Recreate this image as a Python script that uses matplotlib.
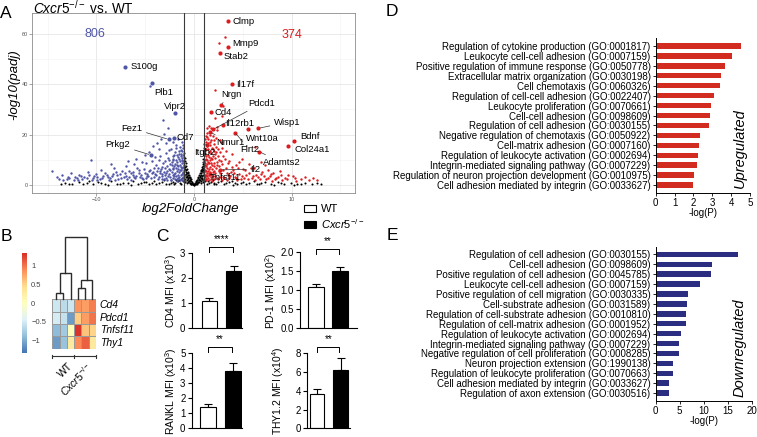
import matplotlib
matplotlib.use("Agg")
import matplotlib.pyplot as plt
import numpy as np
from matplotlib.colors import LinearSegmentedColormap
from matplotlib.patches import Patch

plt.rcParams['font.family'] = ['Liberation Sans', 'DejaVu Sans']
plt.rcParams['mathtext.fontset'] = 'custom'
plt.rcParams['mathtext.rm'] = 'Liberation Sans'
plt.rcParams['mathtext.it'] = 'Liberation Sans:italic'
plt.rcParams['mathtext.bf'] = 'Liberation Sans:bold'

# ---------------- data ----------------
# volcano (log2FoldChange, -log10(padj))
ns_pts = [(-0.95, 9.5), (-0.9, 7.2), (-0.85, 8.8), (-0.8, 5.9), (-0.78, 7.6), (-0.72, 4.8), (-0.7, 6.3),
          (-0.65, 5.2), (-0.6, 3.9), (-0.58, 4.6), (-0.52, 3.1), (-0.5, 4.0), (-0.45, 2.6), (-0.4, 3.2),
          (-0.38, 1.9), (-0.33, 2.4), (-0.3, 1.5), (-0.25, 1.1), (-0.2, 0.8), (-0.15, 0.5), (-0.1, 0.3),
          (-0.05, 0.1), (0.0, 0.05), (0.05, 0.2), (0.1, 0.4), (0.15, 0.7), (0.2, 1.0), (0.25, 1.6),
          (0.3, 2.1), (0.35, 1.8), (0.4, 2.9), (0.45, 3.3), (0.5, 2.5), (0.55, 4.1), (0.6, 4.6),
          (0.62, 3.5), (0.68, 5.4), (0.72, 6.1), (0.75, 4.9), (0.8, 7.0), (0.85, 6.2), (0.88, 8.3),
          (0.92, 9.1), (0.95, 7.7), (0.97, 10.4), (-0.97, 10.8), (-0.88, 6.5), (-0.68, 3.0), (0.7, 2.8),
          (0.9, 5.0), (-0.92, 4.1), (0.55, 1.2), (-0.55, 1.5), (0.3, 0.6), (-0.3, 0.5), (-0.75, 2.0),
          (0.78, 2.2), (-0.9, 1.0), (0.9, 1.3), (-0.82, 3.3), (-0.62, 2.2), (-0.42, 0.9), (0.42, 1.1),
          (0.65, 2.0), (0.83, 3.6), (-0.86, 5.3), (0.93, 6.6), (-0.98, 8.1), (0.98, 8.9), (-0.18, 0.2),
          (0.18, 0.3), (-0.7, 0.6), (0.7, 0.7),
          (-0.96, 5.8), (-0.94, 2.4), (-0.87, 1.7), (-0.83, 4.4), (-0.76, 3.6), (-0.66, 1.3), (-0.57, 2.9),
          (-0.47, 1.6), (-0.36, 0.8), (-0.27, 0.4), (0.27, 0.5), (0.37, 1.3), (0.48, 1.8), (0.58, 3.0),
          (0.67, 1.5), (0.74, 3.9), (0.81, 5.5), (0.86, 2.9), (0.91, 4.0), (0.96, 5.9), (0.94, 2.1),
          (-13.2, 0.9), (-12.5, 0.4), (-11.8, 1.3), (-11.0, 0.6), (-10.4, 0.2), (-9.8, 1.1), (-9.1, 0.5),
          (-8.5, 1.4), (-7.9, 0.3), (-7.3, 0.9), (-6.8, 0.6), (-6.2, 1.5), (-5.7, 0.2), (-5.1, 1.0),
          (-4.6, 0.5), (-4.1, 1.7), (-3.6, 0.8), (-3.1, 1.9), (-2.6, 0.4), (-2.2, 1.2), (-1.8, 2.1),
          (-1.4, 0.7), (-1.2, 2.6), (1.2, 2.4), (1.5, 0.8), (1.9, 1.9), (2.3, 0.5), (2.8, 1.4), (3.3, 0.7),
          (3.9, 1.6), (4.4, 0.3), (5.0, 1.1), (5.6, 0.6), (6.1, 1.5), (6.7, 0.4), (7.3, 1.0), (7.9, 0.5),
          (8.6, 1.2), (9.2, 0.3), (9.9, 0.8), (10.6, 0.4), (11.4, 0.9), (12.1, 0.3), (-10.8, 1.6),
          (-8.8, 0.1), (-6.5, 0.1), (-3.9, 0.2), (-2.0, 0.3), (2.0, 0.2), (4.0, 0.1), (6.5, 0.2),
          (8.2, 0.1), (10.2, 0.1), (-1.6, 1.4), (-2.4, 0.9), (-3.3, 1.2), (-4.9, 1.3), (1.7, 1.3),
          (2.5, 1.0), (3.6, 1.1), (4.8, 0.7), (-1.1, 1.5), (1.1, 1.6),
          (-1.3, 0.4), (-1.9, 0.6), (-2.9, 0.5), (-4.3, 0.9), (-5.4, 0.6), (-7.6, 0.5), (-9.5, 0.7),
          (-11.4, 0.4), (-12.8, 0.5), (1.3, 0.4), (2.1, 0.9), (3.1, 0.4), (4.2, 0.6), (5.3, 0.3),
          (6.9, 0.7), (8.9, 0.6), (11.0, 0.5), (12.6, 0.6), (-1.5, 1.9), (1.4, 1.6), (-13.6, 0.3),
          (13.0, 0.2)]

blue_pts = [(-3.2, 25.8), (-2.7, 22.7), (-3.1, 20.2), (-3.8, 16.5), (-4.2, 15.6), (-4.6, 13.2), (-10.6, 9.9),
            (-1.6, 11.2), (-2.4, 14.3), (-1.8, 16.0), (-1.5, 13.5), (-1.3, 12.2), (-2.9, 12.8), (-3.5, 11.5),
            (-2.1, 10.4), (-5.3, 9.1), (-6.1, 8.2), (-4.9, 8.8), (-7.0, 7.6), (-3.0, 9.4), (-1.2, 9.8),
            (-1.4, 8.1), (-1.7, 9.0), (-2.5, 8.4), (-3.9, 7.9), (-5.8, 6.9), (-8.2, 6.6), (-9.5, 5.8),
            (-6.7, 5.4), (-4.5, 6.1), (-2.2, 6.9), (-1.1, 7.2), (-1.3, 5.9), (-1.6, 6.5), (-2.8, 5.7),
            (-3.4, 6.4), (-5.0, 4.9), (-7.6, 4.4), (-8.9, 4.0), (-10.2, 3.6), (-11.3, 3.0), (-12.0, 2.6),
            (-13.0, 2.2), (-14.6, 5.4), (-13.5, 3.9), (-12.6, 4.6), (-11.8, 4.1), (-10.9, 5.1), (-9.9, 3.2),
            (-8.4, 3.5), (-7.2, 3.1), (-6.3, 3.8), (-5.5, 3.3), (-4.7, 3.7), (-4.0, 4.3), (-3.3, 3.6),
            (-2.6, 4.2), (-1.9, 4.8), (-1.2, 4.5), (-1.1, 3.3), (-1.5, 3.0), (-2.1, 2.8), (-2.9, 2.6),
            (-3.7, 2.4), (-4.4, 2.7), (-5.2, 2.3), (-6.0, 2.6), (-6.9, 2.2), (-7.8, 2.5), (-8.7, 2.1),
            (-9.6, 2.4), (-10.5, 2.1), (-11.5, 2.3), (-12.3, 2.0), (-1.3, 2.2), (-1.7, 2.5), (-2.4, 2.1),
            (-1.05, 12.8), (-1.15, 14.6), (-1.25, 10.6), (-1.4, 15.2), (-2.0, 12.0), (-2.7, 10.9),
            (-3.6, 9.8), (-4.2, 5.2), (-6.5, 4.6), (-8.0, 5.2), (-9.1, 4.8), (-5.6, 5.8), (-3.1, 5.0),
            (-2.3, 5.3), (-1.8, 3.7), (-1.0, 6.0), (-1.05, 8.6), (-1.0, 11.0), (-1.2, 1.8), (-1.1, 2.6),
            (-2.0, 7.6), (-2.6, 6.2), (-3.8, 5.5), (-4.5, 39.5), (-1.1, 15.8), (-1.2, 13.4), (-1.5, 10.3),
            (-1.9, 13.1), (-2.3, 9.2), (-1.35, 7.0), (-1.6, 4.1), (-2.05, 3.4), (-2.5, 3.1), (-3.0, 3.9),
            (-3.5, 4.7), (-4.1, 3.3), (-4.8, 4.4), (-5.4, 4.1), (-6.1, 3.2), (-7.0, 3.6), (-7.4, 5.7),
            (-8.6, 2.9), (-9.3, 3.5), (-10.0, 4.4), (-11.0, 2.7), (-12.9, 3.1), (-13.8, 2.5), (-1.0, 4.0),
            (-1.0, 2.0), (-1.15, 5.2), (-1.45, 1.9), (-1.75, 1.6), (-2.8, 1.9), (-3.3, 2.2), (-4.9, 2.9),
            (-6.5, 2.0), (-8.1, 1.9), (-9.9, 2.0), (-11.9, 1.8), (-1.7, 7.8), (-2.2, 11.6), (-3.3, 7.2),
            (-4.3, 9.7), (-5.9, 10.5), (-1.25, 17.0), (-1.6, 18.4), (-3.6, 14.1),
            (-1.05, 1.4), (-1.1, 4.8), (-1.2, 6.6), (-1.25, 8.9), (-1.3, 11.5), (-1.35, 3.8), (-1.4, 6.1),
            (-1.45, 9.6), (-1.5, 12.4), (-1.55, 5.0), (-1.6, 7.4), (-1.65, 2.7), (-1.7, 11.9), (-1.75, 5.6),
            (-1.8, 10.0), (-1.85, 6.9), (-1.9, 2.2), (-1.95, 8.5), (-2.0, 4.4), (-2.1, 6.2), (-2.15, 9.8),
            (-2.2, 3.9), (-2.3, 7.9), (-2.35, 1.8), (-2.45, 5.8), (-2.55, 9.9), (-2.65, 3.6), (-2.75, 7.4),
            (-2.85, 4.8), (-2.95, 6.8), (-3.05, 2.3), (-3.15, 8.6), (-3.25, 4.3), (-3.45, 5.6), (-3.55, 3.1),
            (-3.7, 6.7), (-3.9, 3.9), (-4.05, 6.8), (-4.3, 4.6), (-4.6, 5.4), (-4.85, 3.4), (-5.1, 6.3),
            (-5.35, 2.8), (-5.65, 4.6), (-5.95, 3.6), (-6.3, 5.2), (-6.7, 3.1), (-7.1, 4.7), (-7.5, 2.7),
            (-7.9, 3.8), (-8.3, 4.4), (-8.8, 3.3), (-9.4, 2.8), (-10.3, 2.9), (-10.8, 3.9), (-11.6, 3.5),
            (-12.2, 3.3), (-12.8, 2.6), (-13.4, 2.1), (-14.0, 3.0), (-1.1, 9.4), (-1.15, 11.9), (-1.3, 13.9),
            (-1.8, 14.6), (-2.6, 13.9), (-2.9, 16.6), (-2.2, 16.9), (-3.4, 18.2), (-4.0, 11.0), (-5.0, 12.0),
            (-6.8, 9.7), (-8.5, 8.3)]

red_pts = [(3.18, 58.9), (2.56, 56.2), (2.15, 37.7), (2.95, 31.3), (2.15, 26.5), (1.3, 22.7), (1.7, 22.5),
           (1.98, 22.1), (2.4, 22.9), (1.2, 19.5), (1.4, 18.2), (1.6, 17.1), (2.1, 16.4), (1.3, 15.6),
           (1.8, 14.8), (2.5, 14.1), (1.15, 13.7), (1.5, 12.9), (2.2, 12.2), (3.0, 11.6), (1.25, 11.3),
           (1.7, 10.7), (2.6, 10.1), (3.6, 9.6), (1.1, 9.9), (1.4, 9.1), (2.0, 8.7), (2.9, 8.2), (4.3, 7.8),
           (1.2, 7.6), (1.6, 7.0), (2.3, 6.6), (3.3, 6.9), (5.0, 6.2), (1.1, 6.1), (1.4, 5.5), (1.9, 5.0),
           (2.7, 4.7), (3.8, 5.3), (4.6, 4.4), (5.6, 4.9), (6.4, 4.0), (7.2, 3.6), (7.9, 4.5), (8.6, 3.1),
           (9.3, 2.7), (10.1, 3.4), (11.0, 2.4), (12.2, 2.6), (1.1, 4.1), (1.3, 3.4), (1.7, 3.0), (2.2, 3.7),
           (3.0, 3.2), (3.6, 2.8), (4.2, 3.1), (5.1, 2.6), (5.9, 2.9), (6.8, 2.5), (7.6, 2.9), (8.3, 2.3),
           (9.0, 2.1), (1.2, 2.4), (1.5, 2.1), (2.5, 2.3), (3.4, 2.1), (4.8, 2.2), (5.2, 5.9), (6.2, 6.6),
           (7.0, 5.3), (7.6, 6.1), (8.1, 4.9), (6.9, 9.2), (5.6, 8.3), (4.9, 10.4), (3.9, 12.1), (3.3, 13.4),
           (2.8, 16.9), (2.3, 18.6), (1.9, 19.6), (1.35, 20.8), (1.55, 23.3), (2.4, 21.7), (1.05, 16.3),
           (1.1, 18.1), (1.2, 14.3), (1.3, 8.3), (1.05, 5.0), (1.05, 7.1), (1.05, 11.8), (4.5, 6.9),
           (7.3, 7.9), (8.8, 5.4), (2.9, 27.2), (6.26, 15.0), (1.15, 3.0), (1.35, 4.6), (1.6, 9.8),
           (1.9, 11.5), (2.4, 9.3), (1.75, 12.6), (1.45, 14.1), (2.05, 13.6), (2.7, 12.9), (1.2, 10.5),
           (1.55, 6.2), (2.1, 5.7), (2.6, 7.6), (3.5, 4.1), (4.0, 6.0), (1.8, 8.1), (1.1, 8.6), (1.65, 15.9),
           (2.3, 15.2), (1.0, 12.6), (1.0, 9.0), (1.0, 3.6), (1.25, 1.9), (1.8, 1.7), (2.9, 1.8), (4.4, 1.9),
           (6.3, 1.8), (8.0, 1.6), (10.5, 1.7), (9.6, 4.1), (12.6, 1.9),
           (1.05, 1.9), (1.05, 14.5), (1.1, 12.2), (1.15, 7.9), (1.2, 5.6), (1.2, 16.9), (1.25, 3.8),
           (1.3, 10.0), (1.3, 19.0), (1.35, 6.6), (1.4, 12.0), (1.4, 2.8), (1.45, 16.7), (1.5, 8.6),
           (1.5, 4.0), (1.55, 11.0), (1.6, 20.0), (1.6, 5.2), (1.65, 13.4), (1.7, 8.9), (1.7, 2.5),
           (1.75, 17.8), (1.8, 6.4), (1.85, 10.3), (1.9, 3.6), (1.95, 14.1), (2.0, 7.4), (2.0, 18.0),
           (2.1, 2.5), (2.15, 10.9), (2.2, 4.8), (2.3, 13.0), (2.35, 8.0), (2.4, 2.9), (2.45, 11.6),
           (2.55, 5.6), (2.65, 17.9), (2.7, 3.3), (2.8, 9.6), (2.9, 14.8), (3.0, 6.0), (3.1, 2.6),
           (3.2, 10.4), (3.4, 4.6), (3.5, 8.6), (3.7, 3.5), (3.9, 7.0), (4.1, 4.8), (4.3, 2.6), (4.6, 9.0),
           (4.9, 3.4), (5.3, 4.0), (5.5, 2.3), (5.8, 6.8), (6.0, 3.5), (6.6, 3.2), (6.9, 4.2), (7.4, 2.3),
           (7.8, 3.5), (8.4, 2.7), (8.9, 3.8), (9.5, 2.4), (10.4, 2.6), (11.4, 3.0), (11.8, 2.1)]

# labelled genes: name, point x, point y, text x, text y, leader line
lab_names = ['S100g', 'Plb1', 'Vipr2', 'Fez1', 'Cd7', 'Prkg2',
             'Clmp', 'Mmp9', 'Stab2', 'Il17f', 'Nrgn', 'Cd4', 'Pdcd1', 'Il12rb1', 'Wisp1', 'Wnt10a',
             'Bdnf', 'Col24a1', 'Nmur1', 'Flrt2', 'Adamts2', 'Il2', 'Itgb2', 'Tnfsf11']
lab_x = [-7.1, -4.3, -1.95, -2.6, -2.05, -4.44,
         3.52, 3.45, 2.67, 3.87, 2.74, 1.74, 1.98, 3.0, 6.6, 5.5,
         10.2, 9.67, 1.64, 4.2, 6.7, 2.67, 1.3, 1.6]
lab_y = [46.7, 40.3, 28.4, 18.1, 18.8, 11.9,
         65.1, 54.6, 52.6, 40.0, 31.7, 29.1, 22.1, 24.0, 22.5, 22.2,
         17.5, 15.5, 21.0, 20.8, 13.2, 6.0, 16.0, 4.5]
lab_tx = [-6.55, -4.05, -3.1, -7.45, -1.75, -9.05,
          3.95, 3.95, 3.05, 4.35, 2.75, 2.15, 5.6, 3.2, 8.2, 5.35,
          10.85, 10.25, 2.3, 4.75, 7.05, 5.8, 0.0, 1.6]
lab_ty = [47.0, 36.8, 31.0, 22.5, 19.0, 15.9,
          65.0, 56.2, 50.9, 40.0, 36.0, 28.7, 32.4, 24.3, 24.9, 18.5,
          19.3, 14.1, 16.8, 13.9, 8.9, 6.2, 12.8, 3.1]
lab_line = [0, 0, 0, 1, 0, 1,
            0, 0, 0, 0, 1, 0, 1, 0, 1, 1,
            1, 0, 1, 1, 1, 1, 1, 0]
n_down, n_up = 806, 374

# heatmap (row z-scores)
hm_genes = ['Cd4', 'Pdcd1', 'Tnfsf11', 'Thy1']
hm_vals = [[-0.55, -0.65, -0.55, 0.85, 0.8, 0.95],
           [-0.5, -0.6, -1.1, 0.55, 0.8, 1.0],
           [-0.9, -0.8, 0.05, 1.3, 0.6, 0.5],
           [-1.1, -0.85, 0.3, 0.9, 1.1, 0.3]]
# column dendrogram: (child a, child b, height); leaves 0-5, new nodes 6+
hm_link = [(0, 1, 6.3), (3, 4, 11.0), (7, 5, 19.0), (6, 2, 26.0), (9, 8, 62.0)]

# MFI bar charts (WT, Cxcr5-/-)
cd4_mean, cd4_err = [1.1, 2.3], [0.1, 0.2]
pd1_mean, pd1_err = [1.1, 1.5], [0.07, 0.12]
rankl_mean, rankl_err = [1.4, 3.85], [0.2, 0.5]
thy_mean, thy_err = [3.7, 6.25], [0.5, 1.25]

# GO terms
up_terms = ['Regulation of cytokine production (GO:0001817)',
            'Leukocyte cell-cell adhesion (GO:0007159)',
            'Positive regulation of immune response (GO:0050778)',
            'Extracellular matrix organization (GO:0030198)',
            'Cell chemotaxis (GO:0060326)',
            'Regulation of cell-cell adhesion (GO:0022407)',
            'Leukocyte proliferation (GO:0070661)',
            'Cell-cell adhesion (GO:0098609)',
            'Regulation of cell adhesion (GO:0030155)',
            'Negative regulation of chemotaxis (GO:0050922)',
            'Cell-matrix adhesion (GO:0007160)',
            'Regulation of leukocyte activation (GO:0002694)',
            'Integrin-mediated signaling pathway (GO:0007229)',
            'Regulation of neuron projection development (GO:0010975)',
            'Cell adhesion mediated by integrin (GO:0033627)']
up_vals = [4.5, 4.05, 3.65, 3.44, 3.42, 3.08, 2.95, 2.86, 2.82, 2.33, 2.3, 2.26, 2.19, 2.02, 1.98]
down_terms = ['Regulation of cell adhesion (GO:0030155)',
              'Cell-cell adhesion (GO:0098609)',
              'Positive regulation of cell adhesion (GO:0045785)',
              'Leukocyte cell-cell adhesion (GO:0007159)',
              'Positive regulation of cell migration (GO:0030335)',
              'Cell-substrate adhesion (GO:0031589)',
              'Regulation of cell-substrate adhesion (GO:0010810)',
              'Regulation of cell-matrix adhesion (GO:0001952)',
              'Regulation of leukocyte activation (GO:0002694)',
              'Integrin-mediated signaling pathway (GO:0007229)',
              'Negative regulation of cell proliferation (GO:0008285)',
              'Neuron projection extension (GO:1990138)',
              'Regulation of leukocyte proliferation (GO:0070663)',
              'Cell adhesion mediated by integrin (GO:0033627)',
              'Regulation of axon extension (GO:0030516)']
down_vals = [17.1, 11.7, 11.5, 9.2, 6.8, 6.45, 6.3, 6.3, 5.3, 4.9, 4.85, 3.7, 3.7, 2.85, 2.85]

KO = r'$\mathit{Cxcr5}^{-/-}$'
BLUE, RED = '#4f56a6', '#dc1c1f'

# ---------------- figure ----------------
W, H = 757, 437
fig = plt.figure(figsize=(W / 100, H / 100), dpi=100)


def ax_px(l, t, r, b):
    return fig.add_axes([l / W, 1 - b / H, (r - l) / W, (b - t) / H])


def txt(x, y, s, **kw):
    kw.setdefault('ha', 'center')
    kw.setdefault('va', 'center')
    return fig.text(x / W, 1 - y / H, s, **kw)


# panel letters
for letter, (x, y) in zip('ABCDE', [(6, 13), (6, 236), (162, 236), (392, 12), (392, 235)]):
    txt(x, y, letter, fontsize=12.5)

# ---- A: volcano ----
ax = ax_px(32, 13, 355, 193)
ax.set_xlim(-16.6, 16.5)
ax.set_ylim(-3.2, 68.3)
ax.set_xticks([-10, 0, 10])
ax.set_xticks([-15, -5, 5, 15], minor=True)
ax.set_yticks([0, 20, 40, 60])
ax.set_yticks([10, 30, 50], minor=True)
ax.grid(which='major', color='#e6e6e6', lw=0.6, zorder=0)
ax.grid(which='minor', color='#f2f2f2', lw=0.4, zorder=0)
ax.tick_params(which='major', length=2, width=0.5, color='#7f7f7f', labelsize=4, labelcolor='#555555', pad=1)
ax.tick_params(which='minor', length=0)
for s in ax.spines.values():
    s.set_color('#8c8c8c')
    s.set_linewidth(0.6)
ax.set_axisbelow(True)

ns = np.array(ns_pts)
bl = np.array(blue_pts)
rd = np.array(red_pts)
ax.scatter(ns[:, 0], ns[:, 1], s=2.2, c='black', lw=0, zorder=2)
ax.scatter(bl[:, 0], bl[:, 1], s=3.0, c=BLUE, lw=0, zorder=3)
ax.scatter(rd[:, 0], rd[:, 1], s=3.0, c=RED, lw=0, zorder=3)
ax.axvline(-1, color='#3a3a3a', lw=0.8, zorder=4)
ax.axvline(1, color='#3a3a3a', lw=0.8, zorder=4)

for name, x, y, tx, ty, ln in zip(lab_names, lab_x, lab_y, lab_tx, lab_ty, lab_line):
    col = BLUE if x < 0 else RED
    ax.scatter([x], [y], s=9, c=col, lw=0, zorder=5)
    ap = dict(arrowstyle='-', color='#333333', lw=0.5, shrinkA=1, shrinkB=1.5) if ln else None
    ax.annotate(name, xy=(x, y), xytext=(tx, ty), fontsize=6.8, ha='left', va='center',
                arrowprops=ap, zorder=6)
ax.text(-10.15, 59.8, str(n_down), color=BLUE, fontsize=9, ha='center', va='center')
ax.text(10.0, 59.5, str(n_up), color=RED, fontsize=9, ha='center', va='center')

txt(33, 7.5, KO + ' vs. WT', fontsize=9.8, ha='left')
txt(14, 85, '-log10(padj)', fontsize=9.5, style='italic', rotation=90)
txt(191, 208.5, 'log2FoldChange', fontsize=9.5, style='italic')

# ---- B: heatmap ----
cmap = LinearSegmentedColormap.from_list(
    'phm', ['#4575B4', '#91BFDB', '#E0F3F8', '#FFFFBF', '#FEE090', '#FC8D59', '#D73027'])
axh = ax_px(52.3, 299.3, 96, 348.7)
axh.pcolormesh(np.array(hm_vals), cmap=cmap, vmin=-1.33, vmax=1.33, edgecolors='#9a9a9a', linewidth=0.7)
axh.set_xlim(0, 6)
axh.set_ylim(4, 0)
axh.axis('off')
for i, g in enumerate(hm_genes):
    axh.text(6.5, i + 0.5, g, style='italic', fontsize=7.5, va='center', ha='left')
axh.plot([0, 6], [4.6, 4.6], color='#333333', lw=0.8, clip_on=False)
for xx in [0, 3, 6]:
    axh.plot([xx, xx], [4.48, 4.72], color='#333333', lw=0.8, clip_on=False)
axh.text(2.05, 5.0, 'WT', fontsize=7.5, rotation=45, ha='right', va='top', rotation_mode='anchor')
axh.text(4.6, 5.0, KO, fontsize=7.5, rotation=45, ha='right', va='top', rotation_mode='anchor')

# dendrogram
axd = ax_px(52.3, 237, 96, 299.3)
axd.set_xlim(0, 6)
axd.set_ylim(0, 62)
axd.axis('off')
node_x = {i: i + 0.5 for i in range(6)}
node_h = {i: 0.0 for i in range(6)}
for k, (a, b, h) in enumerate(hm_link):
    xa, xb = node_x[a], node_x[b]
    axd.plot([xa, xa, xb, xb], [node_h[a], h, h, node_h[b]], color='#2b2b2b', lw=1.0,
             solid_joinstyle='miter', clip_on=False)
    node_x[6 + k] = (xa + xb) / 2
    node_h[6 + k] = h

# colour key
axc = ax_px(22, 253, 27, 353)
grad = np.linspace(-1.33, 1.33, 200).reshape(-1, 1)
axc.imshow(grad, cmap=cmap, aspect='auto', origin='lower', extent=(0, 1, -1.33, 1.33))
axc.set_xticks([])
axc.yaxis.tick_right()
axc.set_yticks([1, 0.5, 0, -0.5, -1])
axc.set_yticklabels(['1', '0.5', '0', '\u22120.5', '\u22121'])
axc.tick_params(axis='y', length=0, labelsize=5.5, labelcolor='#444444', pad=3)
for s in axc.spines.values():
    s.set_visible(False)


# ---- C: bars ----
def bar_panel(rect, means, errs, ymax, yticks, ylabels, xlim, width, stars, br_y, lab, lab_x):
    a = ax_px(*rect)
    xs = [0, 1]
    a.bar(xs, means, width=width, color=['white', 'black'], edgecolor='black', lw=0.8, zorder=2)
    a.errorbar(xs, means, yerr=[[0, 0], errs], fmt='none', ecolor='black', elinewidth=0.8,
               capsize=2.8, capthick=0.8, zorder=1)
    a.set_xlim(*xlim)
    a.set_ylim(0, ymax)
    a.set_xticks([])
    a.set_yticks(yticks)
    a.set_yticklabels(ylabels)
    a.tick_params(axis='y', length=3, width=0.8, labelsize=7, pad=1.5)
    for s in ['top', 'right']:
        a.spines[s].set_visible(False)
    for s in ['left', 'bottom']:
        a.spines[s].set_linewidth(0.8)
    leg = br_y * 0.06
    a.plot([0, 0, 0.95, 0.95], [br_y - leg, br_y, br_y, br_y - leg], color='black', lw=0.7, clip_on=False)
    a.text(0.475, br_y + ymax * 0.04, stars, ha='center', va='bottom', fontsize=7, clip_on=False)
    yc = (rect[1] + rect[3]) / 2
    txt(lab_x, yc, lab, rotation=90, fontsize=7.5)
    return a


bar_panel((191.7, 253, 241.7, 328.3), cd4_mean, cd4_err, 3, [0, 1, 2, 3], ['0', '1', '2', '3'],
          (-0.72, 1.31), 0.63, '****', 3.24, r'CD4 MFI (x10$^3$)', 171)
bar_panel((300, 252.3, 356.7, 328.3), pd1_mean, pd1_err, 2, [0, 0.5, 1, 1.5, 2],
          ['0.0', '0.5', '1.0', '1.5', '2.0'], (-0.66, 1.67), 0.66, '**', 2.08, r'PD-1 MFI (x10$^2$)', 271)
bar_panel((191.7, 353.3, 241.7, 428.3), rankl_mean, rankl_err, 5, [0, 1, 2, 3, 4, 5],
          ['0', '1', '2', '3', '4', '5'], (-0.65, 1.35), 0.62, '**', 5.4, r'RANKL MFI (x10$^3$)', 171)
bar_panel((307, 353.3, 350, 428.3), thy_mean, thy_err, 8, [0, 2, 4, 6, 8],
          ['0', '2', '4', '6', '8'], (-0.43, 1.4), 0.62, '**', 8.65, r'THY1.2 MFI (x10$^4$)', 278)

fig.legend(handles=[Patch(facecolor='white', edgecolor='black', lw=0.8, label='WT'),
                    Patch(facecolor='black', edgecolor='black', lw=0.8, label=KO)],
           loc='upper left', bbox_to_anchor=(304 / W, 1 - 204 / H), frameon=False, fontsize=8,
           handlelength=1.1, handleheight=0.6, handletextpad=0.4, labelspacing=0.25,
           borderpad=0, borderaxespad=0)


# ---- D / E: GO bars ----
def go_panel(rect, terms, vals, xmax, xticks, color, side_label, side_y):
    a = ax_px(*rect)
    ys = np.arange(len(terms))
    a.barh(ys, vals, height=0.55, color=color, zorder=2)
    a.set_ylim(len(terms) - 1 + 0.77, -0.77)
    a.set_xlim(0, xmax)
    a.set_yticks(ys)
    a.set_yticklabels(terms)
    a.set_xticks(xticks)
    a.tick_params(axis='y', length=2.5, width=0.6, labelsize=7.0, pad=1.2)
    a.tick_params(axis='x', length=2.5, width=0.6, labelsize=7, pad=1.5)
    for s in ['top', 'right']:
        a.spines[s].set_visible(False)
    for s in ['left', 'bottom']:
        a.spines[s].set_linewidth(0.7)
    a.set_xlabel('-log(P)', fontsize=7, labelpad=0)
    txt(740, side_y, side_label, rotation=90, style='italic', fontsize=10.5)
    return a


go_panel((655.7, 38.3, 750, 192.7), up_terms, up_vals, 5, [0, 1, 2, 3, 4, 5], '#d22b20', 'Upregulated', 148)
go_panel((655.7, 246.7, 751.7, 400.7), down_terms, down_vals, 20, [0, 5, 10, 15, 20], '#2b2d80',
         'Downregulated', 348)

fig.savefig('out.png', dpi=100)
